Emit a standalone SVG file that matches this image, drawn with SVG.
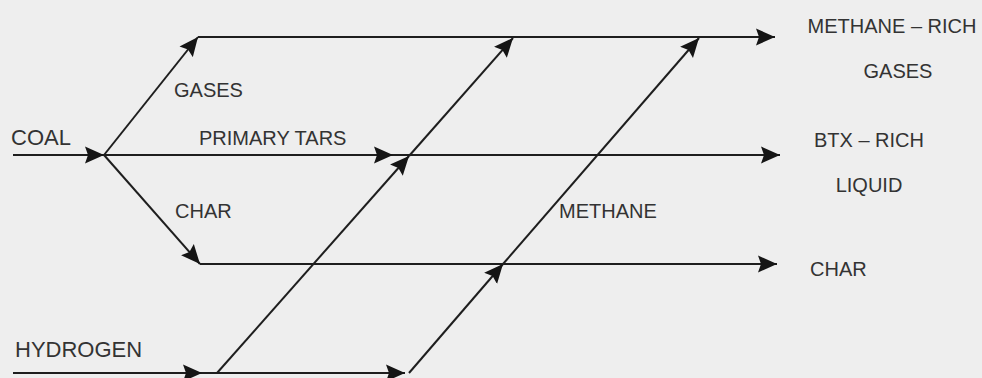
<svg xmlns="http://www.w3.org/2000/svg" width="982" height="378" viewBox="0 0 982 378">
  <defs>
    <marker id="arr" markerUnits="userSpaceOnUse" markerWidth="20" markerHeight="18" viewBox="0 0 20 18" refX="19" refY="9" orient="auto">
      <path d="M0 0.5 L19 9 L0 17.5 L3 9 Z" fill="#151515"/>
    </marker>
    <style>
      .t { font-family: "Liberation Sans", Arial, sans-serif; font-size: 20px; fill: #333333; }
      .c { text-anchor: middle; }
      .ln { fill: none; stroke: #1e1e1e; stroke-width: 2; marker-end: url(#arr); }
    </style>
  </defs>
  <rect width="982" height="378" fill="#eeeeee"/>

  <g id="connectors">
    <path class="ln" d="M13 155 H104"/>
    <path class="ln" d="M104 155 L198 37"/>
    <path class="ln" d="M198 37 H775"/>
    <path class="ln" d="M104 155 H393"/>
    <path class="ln" d="M393 155 H780"/>
    <path class="ln" d="M104 155 L200 264"/>
    <path class="ln" d="M200 264 H777"/>
    <path class="ln" d="M13 373 H202"/>
    <path class="ln" d="M202 373 H405"/>
    <path class="ln" d="M217 373 L409 156"/>
    <path class="ln" d="M409 156 L513 38"/>
    <path class="ln" d="M409 373 L503 264"/>
    <path class="ln" d="M503 264 L699 38"/>
  </g>

  <g id="coal"><text class="t" x="11" y="145" style="font-size:22px">COAL</text></g>
  <g id="hydrogen"><text class="t" x="15" y="357" style="font-size:22px">HYDROGEN</text></g>
  <g id="gases-label"><text class="t" x="174" y="97">GASES</text></g>
  <g id="primary-tars"><text class="t" x="199" y="145">PRIMARY TARS</text></g>
  <g id="char-label"><text class="t" x="175" y="218">CHAR</text></g>
  <g id="methane-label"><text class="t" x="559" y="218">METHANE</text></g>
  <g id="methane-rich-gases">
    <text class="t c" x="892" y="33">METHANE – RICH</text>
    <text class="t c" x="898" y="78">GASES</text>
  </g>
  <g id="btx-rich-liquid">
    <text class="t c" x="869" y="147">BTX – RICH</text>
    <text class="t c" x="869" y="192">LIQUID</text>
  </g>
  <g id="char-out"><text class="t" x="810" y="276">CHAR</text></g>
</svg>
